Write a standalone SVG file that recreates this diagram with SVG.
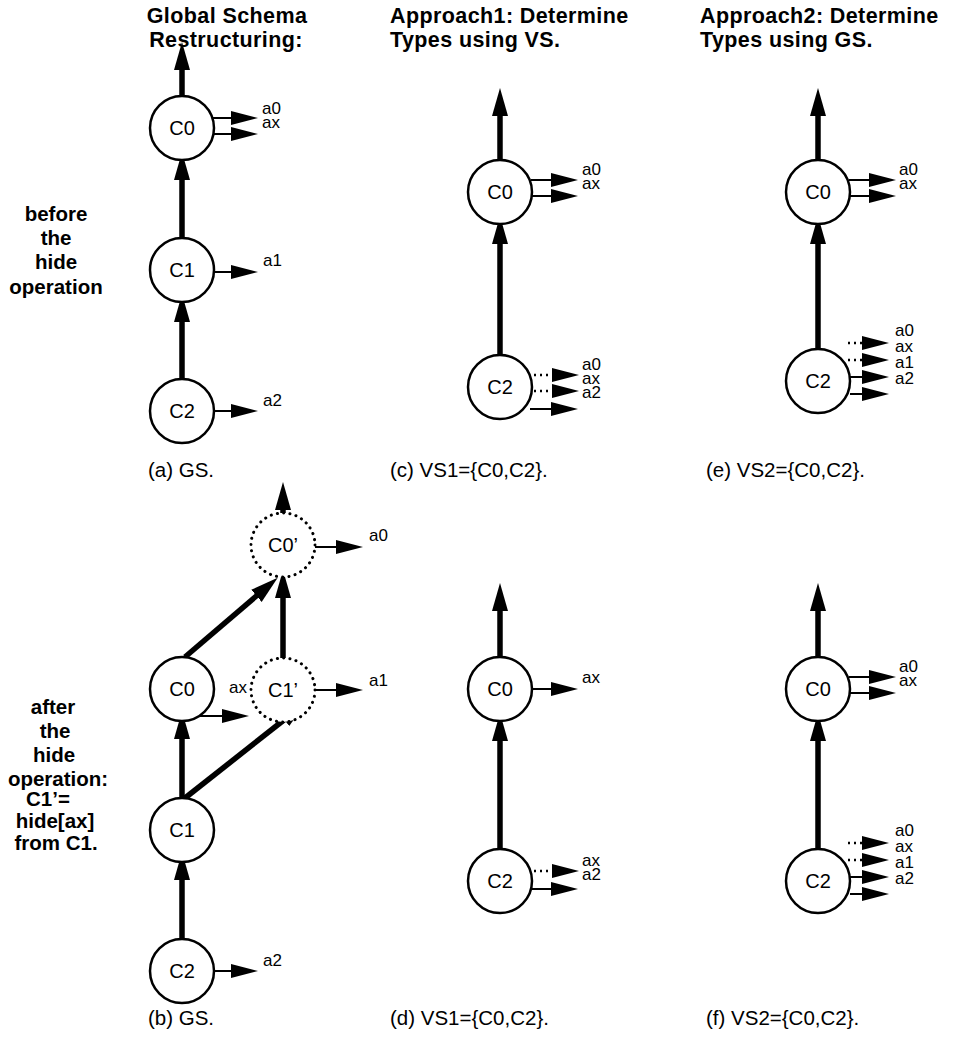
<svg xmlns="http://www.w3.org/2000/svg" width="968" height="1039" viewBox="0 0 968 1039">
<style>
text{font-family:"Liberation Sans",Arial,sans-serif;fill:#000}
.hd{font-size:21.5px;font-weight:bold;letter-spacing:0.4px}
.lt{font-size:20.5px;font-weight:bold;text-anchor:middle}
.cap{font-size:20.5px}
.nl{font-size:20px;text-anchor:middle}
.al{font-size:17px}
.node{fill:#fff;stroke:#000;stroke-width:2.5}
.dnode{fill:#fff;stroke:#000;stroke-width:3;stroke-dasharray:0.1 6.2;stroke-linecap:round}
.thick{stroke:#000;stroke-width:5.5;fill:none}
.attr{stroke:#000;stroke-width:2;fill:none}
.dot{stroke:#000;stroke-width:2.5;stroke-dasharray:2 4;fill:none}
</style>
<defs>
<marker id="th" markerUnits="userSpaceOnUse" viewBox="0 0 28 18" markerWidth="28" markerHeight="18" refX="6" refY="9" orient="auto"><path d="M0,1 L28,9 L0,17 z" fill="#000"/></marker>
<marker id="ah" markerUnits="userSpaceOnUse" viewBox="0 0 27 14" markerWidth="27" markerHeight="14" refX="4" refY="7" orient="auto"><path d="M0,0 L27,7 L0,14 z" fill="#000"/></marker>
</defs>

<g id="headers">
<text class="hd" x="227" y="23" text-anchor="middle">Global Schema</text>
<text class="hd" x="226" y="47" text-anchor="middle">Restructuring:</text>
<text class="hd" x="390" y="23">Approach1: Determine</text>
<text class="hd" x="390" y="47">Types using VS.</text>
<text class="hd" x="700" y="23">Approach2: Determine</text>
<text class="hd" x="700" y="47">Types using GS.</text>
</g>

<g id="side-labels">
<text class="lt" x="56" y="221">before</text>
<text class="lt" x="56" y="245">the</text>
<text class="lt" x="56" y="269">hide</text>
<text class="lt" x="56" y="294">operation</text>
<text class="lt" x="53" y="714">after</text>
<text class="lt" x="55" y="738">the</text>
<text class="lt" x="54" y="762">hide</text>
<text class="lt" x="58" y="786">operation:</text>
<text class="lt" x="48" y="806">C1’=</text>
<text class="lt" x="55" y="828">hide[ax]</text>
<text class="lt" x="56" y="850">from C1.</text>
</g>

<g id="captions">
<text class="cap" x="148" y="477">(a) GS.</text>
<text class="cap" x="390" y="477">(c) VS1={C0,C2}.</text>
<text class="cap" x="706" y="477">(e) VS2={C0,C2}.</text>
<text class="cap" x="148" y="1025">(b) GS.</text>
<text class="cap" x="390" y="1025">(d) VS1={C0,C2}.</text>
<text class="cap" x="706" y="1025">(f) VS2={C0,C2}.</text>
</g>

<g id="connectors">
<!-- panel a -->
<line class="thick" x1="182" y1="96" x2="182" y2="64" marker-end="url(#th)"/>
<line class="thick" x1="182" y1="238" x2="182" y2="174" marker-end="url(#th)"/>
<line class="thick" x1="182" y1="379" x2="182" y2="316" marker-end="url(#th)"/>
<line class="attr" x1="212" y1="118" x2="235" y2="118" marker-end="url(#ah)"/>
<line class="attr" x1="213" y1="134" x2="235" y2="134" marker-end="url(#ah)"/>
<line class="attr" x1="214" y1="272" x2="235" y2="272" marker-end="url(#ah)"/>
<line class="attr" x1="214" y1="411" x2="235" y2="411" marker-end="url(#ah)"/>
<!-- panel b -->
<line class="thick" x1="283" y1="513" x2="283" y2="504" marker-end="url(#th)"/>
<line class="attr" x1="315" y1="547" x2="340" y2="547" marker-end="url(#ah)"/>
<line class="thick" x1="283" y1="658" x2="283" y2="592" marker-end="url(#th)"/>
<line class="attr" x1="315" y1="690" x2="340" y2="690" marker-end="url(#ah)"/>
<line class="thick" x1="185" y1="657" x2="261" y2="592" marker-end="url(#th)"/>
<line class="thick" x1="185" y1="798" x2="289" y2="716" marker-end="url(#th)"/>
<line class="attr" x1="200" y1="716" x2="226" y2="716" marker-end="url(#ah)"/>
<line class="thick" x1="182" y1="798" x2="182" y2="733" marker-end="url(#th)"/>
<line class="thick" x1="182" y1="939" x2="182" y2="874" marker-end="url(#th)"/>
<line class="attr" x1="214" y1="971" x2="235" y2="971" marker-end="url(#ah)"/>
<!-- panel c -->
<line class="thick" x1="500" y1="160" x2="500" y2="110" marker-end="url(#th)"/>
<line class="thick" x1="500" y1="355" x2="500" y2="238" marker-end="url(#th)"/>
<line class="attr" x1="531" y1="180" x2="555" y2="180" marker-end="url(#ah)"/>
<line class="attr" x1="532" y1="196" x2="555" y2="196" marker-end="url(#ah)"/>
<line class="dot" x1="534" y1="375" x2="556" y2="375" marker-end="url(#ah)"/>
<line class="dot" x1="534" y1="391" x2="556" y2="391" marker-end="url(#ah)"/>
<line class="attr" x1="530" y1="409" x2="555" y2="409" marker-end="url(#ah)"/>
<!-- panel d -->
<line class="thick" x1="500" y1="657" x2="500" y2="605" marker-end="url(#th)"/>
<line class="thick" x1="500" y1="849" x2="500" y2="735" marker-end="url(#th)"/>
<line class="attr" x1="532" y1="689" x2="555" y2="689" marker-end="url(#ah)"/>
<line class="dot" x1="534" y1="871" x2="556" y2="871" marker-end="url(#ah)"/>
<line class="attr" x1="530" y1="889" x2="555" y2="889" marker-end="url(#ah)"/>
<!-- panel e -->
<line class="thick" x1="818" y1="160" x2="818" y2="110" marker-end="url(#th)"/>
<line class="thick" x1="818" y1="349" x2="818" y2="238" marker-end="url(#th)"/>
<line class="attr" x1="849" y1="180" x2="873" y2="180" marker-end="url(#ah)"/>
<line class="attr" x1="850" y1="196" x2="873" y2="196" marker-end="url(#ah)"/>
<line class="dot" x1="848" y1="343" x2="866" y2="343" marker-end="url(#ah)"/>
<line class="dot" x1="848" y1="360" x2="866" y2="360" marker-end="url(#ah)"/>
<line class="attr" x1="850" y1="377" x2="866" y2="377" marker-end="url(#ah)"/>
<line class="attr" x1="850" y1="394" x2="866" y2="394" marker-end="url(#ah)"/>
<!-- panel f -->
<line class="thick" x1="818" y1="657" x2="818" y2="605" marker-end="url(#th)"/>
<line class="thick" x1="818" y1="849" x2="818" y2="735" marker-end="url(#th)"/>
<line class="attr" x1="849" y1="677" x2="873" y2="677" marker-end="url(#ah)"/>
<line class="attr" x1="850" y1="693" x2="873" y2="693" marker-end="url(#ah)"/>
<line class="dot" x1="848" y1="843" x2="866" y2="843" marker-end="url(#ah)"/>
<line class="dot" x1="848" y1="860" x2="866" y2="860" marker-end="url(#ah)"/>
<line class="attr" x1="850" y1="877" x2="866" y2="877" marker-end="url(#ah)"/>
<line class="attr" x1="850" y1="894" x2="866" y2="894" marker-end="url(#ah)"/>
</g>

<g id="attr-labels">
<text class="al" x="262" y="114">a0</text>
<text class="al" x="262" y="128">ax</text>
<text class="al" x="263" y="266">a1</text>
<text class="al" x="263" y="406">a2</text>
<text class="al" x="369" y="541">a0</text>
<text class="al" x="369" y="686">a1</text>
<text class="al" x="229" y="693">ax</text>
<text class="al" x="263" y="966">a2</text>
<text class="al" x="582" y="175">a0</text>
<text class="al" x="582" y="189">ax</text>
<text class="al" x="582" y="370">a0</text>
<text class="al" x="582" y="384">ax</text>
<text class="al" x="582" y="398">a2</text>
<text class="al" x="582" y="683">ax</text>
<text class="al" x="582" y="866">ax</text>
<text class="al" x="582" y="880">a2</text>
<text class="al" x="899" y="175">a0</text>
<text class="al" x="899" y="189">ax</text>
<text class="al" x="895" y="336">a0</text>
<text class="al" x="895" y="352">ax</text>
<text class="al" x="895" y="368">a1</text>
<text class="al" x="895" y="384">a2</text>
<text class="al" x="899" y="672">a0</text>
<text class="al" x="899" y="686">ax</text>
<text class="al" x="895" y="836">a0</text>
<text class="al" x="895" y="852">ax</text>
<text class="al" x="895" y="868">a1</text>
<text class="al" x="895" y="884">a2</text>
</g>

<g id="a-C0"><circle class="node" cx="182" cy="128" r="32"/><text class="nl" x="182" y="135">C0</text></g>
<g id="a-C1"><circle class="node" cx="182" cy="270" r="32"/><text class="nl" x="182" y="277">C1</text></g>
<g id="a-C2"><circle class="node" cx="182" cy="411" r="32"/><text class="nl" x="182" y="418">C2</text></g>

<g id="b-C0p"><circle class="dnode" cx="283" cy="545" r="32"/><text class="nl" x="283" y="552">C0’</text></g>
<g id="b-C1p"><circle class="dnode" cx="283" cy="690" r="32"/><text class="nl" x="283" y="697">C1’</text></g>
<g id="b-C0"><circle class="node" cx="182" cy="689" r="32"/><text class="nl" x="182" y="696">C0</text></g>
<g id="b-C1"><circle class="node" cx="182" cy="830" r="32"/><text class="nl" x="182" y="837">C1</text></g>
<g id="b-C2"><circle class="node" cx="182" cy="971" r="32"/><text class="nl" x="182" y="978">C2</text></g>

<g id="c-C0"><circle class="node" cx="500" cy="192" r="32"/><text class="nl" x="500" y="199">C0</text></g>
<g id="c-C2"><circle class="node" cx="500" cy="387" r="32"/><text class="nl" x="500" y="394">C2</text></g>

<g id="d-C0"><circle class="node" cx="500" cy="689" r="32"/><text class="nl" x="500" y="696">C0</text></g>
<g id="d-C2"><circle class="node" cx="500" cy="881" r="32"/><text class="nl" x="500" y="888">C2</text></g>

<g id="e-C0"><circle class="node" cx="818" cy="192" r="32"/><text class="nl" x="818" y="199">C0</text></g>
<g id="e-C2"><circle class="node" cx="818" cy="381" r="32"/><text class="nl" x="818" y="388">C2</text></g>

<g id="f-C0"><circle class="node" cx="818" cy="689" r="32"/><text class="nl" x="818" y="696">C0</text></g>
<g id="f-C2"><circle class="node" cx="818" cy="881" r="32"/><text class="nl" x="818" y="888">C2</text></g>
</svg>
